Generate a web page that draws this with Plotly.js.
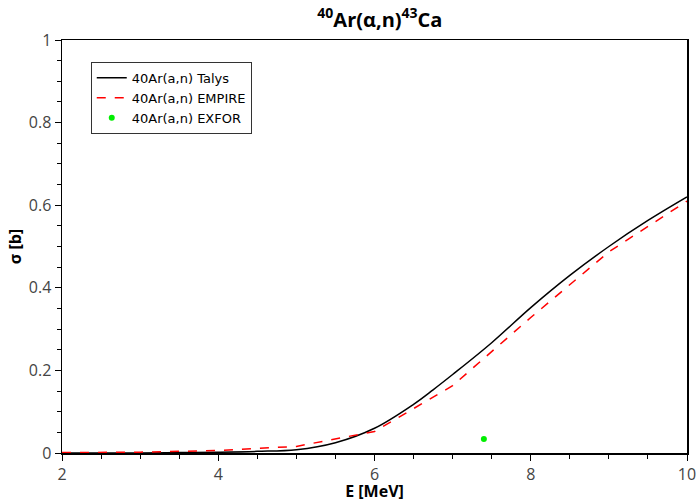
<!DOCTYPE html>
<html><head><meta charset="utf-8">
<script src="https://cdn.plot.ly/plotly-3.0.1.min.js"></script>
<style>body{margin:0;background:#fff}#c{width:697px;height:502px}</style>
</head><body><div id="c"></div>
<script>
const talysE = [2,2.5,3,3.5,4,4.5,5,5.5,6,6.5,6.75,7,7.5,8,8.5,9,9.5,10];
const talysS = [0,0,0,0.001,0.002,0.004,0.008,0.025,0.06,0.118,0.153,0.19,0.267,0.352,0.43,0.5,0.563,0.62];
const empireE = [2,3,4,5,6,7,8,9,10];
const empireS = [0.001,0.002,0.006,0.016,0.052,0.163,0.328,0.487,0.61];
const exforE = [7.4];
const exforS = [0.034];
const font = "Open Sans, DejaVu Sans, sans-serif";
const traces = [
 {x:talysE,y:talysS,mode:'lines',name:'40Ar(a,n) Talys',line:{color:'#000',width:1.5,shape:'spline'}},
 {x:empireE,y:empireS,mode:'lines',name:'40Ar(a,n) EMPIRE',line:{color:'#ff0000',width:1.5,dash:'dash'}},
 {x:exforE,y:exforS,mode:'markers',name:'40Ar(a,n) EXFOR',marker:{color:'#00ee00',size:6}}
];
const layout = {
 width:697,height:502,
 margin:{l:62,r:8,t:40,b:49},
 paper_bgcolor:'#fff',plot_bgcolor:'#fff',
 font:{family:font,size:16,color:'#333'},
 title:{text:'<b><sup>40</sup>Ar(α,n)<sup>43</sup>Ca</b>',x:0.545,xanchor:'center',y:0.975,yanchor:'top',font:{family:font,size:20,color:'#000'}},
 xaxis:{range:[2,10],tick0:2,dtick:2,ticks:'outside',ticklen:6,tickwidth:1,tickcolor:'#000',showgrid:false,zeroline:false,
   showline:true,linecolor:'#000',linewidth:1.5,mirror:true,ticklabeloverflow:'allow',
   minor:{tick0:2,dtick:0.5,ticks:'outside',ticklen:4,tickwidth:1,tickcolor:'#000',showgrid:false},
   title:{text:'<b>E [MeV]</b>',font:{family:font,size:16,color:'#000'}},
   tickfont:{family:font,size:16,color:'#444'}},
 yaxis:{range:[0,1],tick0:0,dtick:0.2,ticks:'outside',ticklen:6,tickwidth:1,tickcolor:'#000',showgrid:false,zeroline:false,
   showline:true,linecolor:'#000',linewidth:1.5,mirror:true,ticklabeloverflow:'allow',automargin:true,
   minor:{tick0:0,dtick:0.05,ticks:'outside',ticklen:4,tickwidth:1,tickcolor:'#000',showgrid:false},
   title:{text:'<b>σ [b]</b>',font:{family:font,size:16,color:'#000'},standoff:3},
   tickfont:{family:font,size:16,color:'#444'}},
 legend:{x:0.046,y:0.947,xanchor:'left',yanchor:'top',bgcolor:'#fff',bordercolor:'#333',borderwidth:1,
   font:{family:'DejaVu Sans, sans-serif',size:13,color:'#000'},tracegroupgap:0,itemwidth:30},
 showlegend:true
};
Plotly.newPlot('c',traces,layout,{displayModeBar:false,staticPlot:true});
</script></body></html>
